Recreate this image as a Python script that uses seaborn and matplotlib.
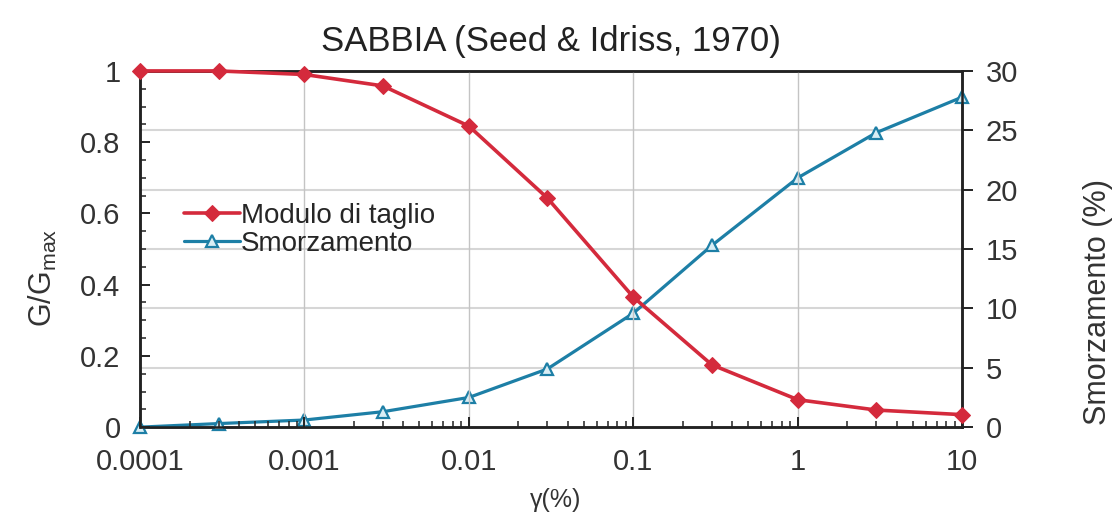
import matplotlib
matplotlib.use("Agg")
import matplotlib.pyplot as plt
import matplotlib.ticker as mticker
import numpy as np
import pandas as pd
import seaborn as sns

# Shear strain levels (%)
strain = [0.0001, 0.0003, 0.001, 0.003, 0.01, 0.03, 0.1, 0.3, 1, 3, 10]
# Normalised shear modulus G/Gmax
modulus = [1.0, 1.0, 0.99, 0.958, 0.845, 0.643, 0.365, 0.175, 0.077, 0.048, 0.035]
# Damping ratio (%)
damping = [0.0, 0.3, 0.6, 1.3, 2.5, 4.9, 9.6, 15.3, 21.0, 24.8, 27.8]

x_ticks = [0.0001, 0.001, 0.01, 0.1, 1, 10]
x_tick_labels = ["0.0001", "0.001", "0.01", "0.1", "1", "10"]
left_ticks = [0, 0.2, 0.4, 0.6, 0.8, 1]
left_tick_labels = ["0", "0.2", "0.4", "0.6", "0.8", "1"]
right_ticks = [0, 5, 10, 15, 20, 25, 30]

sns.set_theme(style="white")
plt.rcParams["font.family"] = ["Liberation Sans", "DejaVu Sans"]

RED = "#d42a3c"
BLUE = "#1d7fa6"
TXT = "#333333"

df = pd.DataFrame({"strain": strain, "modulus": modulus, "damping": damping})

fig = plt.figure(figsize=(11.15, 5.14), dpi=100)
ax = fig.add_axes([0.1256, 0.169, 0.7374, 0.693])
ax2 = ax.twinx()

ax.set_xscale("log")
ax.set_xlim(0.0001, 10)
ax.set_ylim(0, 1)
ax2.set_ylim(0, 30)

# Grid: decades vertically, damping steps horizontally
for xv in x_ticks[1:-1]:
    ax.axvline(xv, color="#c4c4c4", lw=1.0, zorder=0)
for yv in right_ticks[1:-1]:
    ax2.axhline(yv, color="#d6d6d6", lw=1.5, zorder=0)

sns.lineplot(data=df, x="strain", y="modulus", ax=ax, color=RED, lw=2.6,
             marker="D", markersize=8, markeredgecolor=RED, markerfacecolor=RED,
             label="Modulo di taglio", legend=False, clip_on=False, zorder=4)
sns.lineplot(data=df, x="strain", y="damping", ax=ax2, color=BLUE, lw=2.3,
             marker="^", markersize=9, markeredgecolor=BLUE, markerfacecolor="#d9eef5",
             markeredgewidth=1.6,
             label="Smorzamento", legend=False, clip_on=False, zorder=4)

ax.set_xticks(x_ticks)
ax.set_xticklabels(x_tick_labels)
ax.xaxis.set_minor_locator(mticker.LogLocator(base=10, subs=np.arange(2, 10)))
ax.xaxis.set_minor_formatter(mticker.NullFormatter())
ax.set_yticks(left_ticks)
ax.set_yticklabels(left_tick_labels)
ax.yaxis.set_minor_locator(mticker.MultipleLocator(0.05))
ax2.set_yticks(right_ticks)
ax2.set_yticklabels([str(v) for v in right_ticks])

for a in (ax, ax2):
    for s in a.spines.values():
        s.set_color("#222222")
        s.set_linewidth(1.8)

ax.tick_params(axis="x", which="major", direction="in", length=7, width=1.4,
               colors="#222222", labelsize=21, labelcolor=TXT, pad=15, bottom=True)
ax.tick_params(axis="x", which="minor", direction="in", length=4, width=1.1,
               colors="#222222", bottom=True)
ax.tick_params(axis="y", which="major", direction="in", length=7, width=1.4,
               colors="#222222", labelsize=21, labelcolor=TXT, pad=14, left=True)
ax.tick_params(axis="y", which="minor", direction="in", length=4, width=1.1,
               colors="#222222", left=True)
ax2.tick_params(axis="y", which="major", direction="out", length=8, width=1.4,
                colors="#222222", labelsize=21, labelcolor=TXT, pad=9, right=True)

ax.set_xlabel("γ(%)", fontsize=18, color=TXT)
ax.xaxis.set_label_coords(0.505, -0.17)
ax.set_ylabel("G/G$_{\\mathregular{max}}$", fontsize=22, color=TXT)
ax.yaxis.set_label_coords(-0.098, 0.42)
ax2.set_ylabel("Smorzamento (%)", fontsize=22, color=TXT)
ax2.yaxis.set_label_coords(1.147, 0.35)
ax.set_title("SABBIA (Seed & Idriss, 1970)", fontsize=25, color="#222222", pad=14)

h1, l1 = ax.get_legend_handles_labels()
h2, l2 = ax2.get_legend_handles_labels()
ax.legend(h1 + h2, l1 + l2, loc="upper left", bbox_to_anchor=(0.04, 0.66),
          frameon=False, fontsize=20, handlelength=2.0, handletextpad=0.05,
          labelspacing=0.05, borderaxespad=0)

ax.set_zorder(ax2.get_zorder() + 1)
ax.patch.set_visible(False)

fig.savefig("out.png", dpi=100)
